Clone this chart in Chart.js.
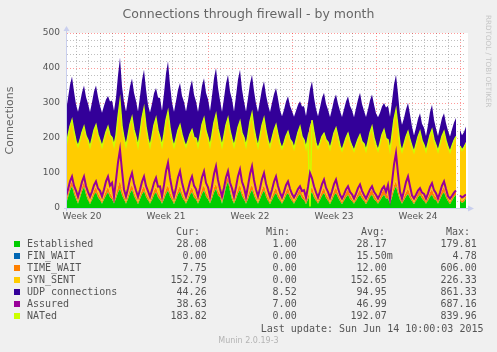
<!DOCTYPE html>
<html>
<head>
<meta charset="utf-8">
<title>Connections through firewall - by month</title>
<script src="https://cdn.jsdelivr.net/npm/chart.js@4.4.1/dist/chart.umd.min.js"></script>
<style>
  body { margin: 0; background: #f0f0f0; }
  #graph { position: relative; width: 497px; height: 352px; overflow: hidden; background: #f0f0f0; }
  #graph canvas { position: absolute; left: 0; top: 0; }
  .txt { position: absolute; white-space: pre; color: #555; }
  .mono { font-family: 'DejaVu Sans Mono', monospace; font-size: 10px; line-height: 12px; }
  .sw { position: absolute; width: 6px; height: 6px; }
</style>
</head>
<body>
<div id="graph">
  <canvas id="chart" width="497" height="352"></canvas>
  <div class="txt" style="left:0;width:497px;top:6px;text-align:center;font-family:'DejaVu Sans';font-size:12.5px;line-height:15px;color:#666;">Connections through firewall - by month</div>
  <div class="txt" style="left:493px;top:15px;font-family:'DejaVu Sans';font-size:7.2px;line-height:9px;color:#c4c4c4;transform:rotate(90deg);transform-origin:0 0;">RRDTOOL / TOBI OETIKER</div>
</div>

<script>
// ==============================
// DATOS (muestras cada 4 horas, dia 2 = 12 de mayo 00:00)
// ==============================
const startDay = 2;
const stepDay = 1 / 6;

const weekLabels = ['Week 20', 'Week 21', 'Week 22', 'Week 23', 'Week 24'];
const weekMid = [3.5, 10.5, 17.5, 24.5, 31.5];

const established = [
  27,12,30,50,62,40,  26,12,29,48,60,38,  22,11,23,37,45,30,  22,12,24,36,45,31,
  25,13,27,44,55,36,  24,12,26,42,52,34,  23,11,25,39,48,32,  22,12,23,37,45,30,
  23,12,25,40,50,33,  23,11,24,39,48,32,  22,12,24,37,45,30,  24,12,25,41,50,33,
  25,13,27,44,55,36,  31,12,34,60,76,47,  24,12,26,42,52,34,  24,12,25,41,52,35,
  23,12,25,40,50,33,  21,11,23,35,43,29,  21,12,22,36,43,29,  20,12,22,33,40,28,
  22,11,24,37,45,30,  21,12,23,35,43,29,  21,11,22,36,43,30,  19,11,21,31,38,26,
  19,12,21,31,38,27,  20,11,21,32,38,26,  19,12,21,31,38,27,  27,12,30,50,62,40,
  22,12,22,33,40,28,  19,11,21,31,38,27,  20,12,21,32,38,26,  22,12,24,37,45,30,
  19,11,21,31,38,null,  20,14,18,28.08
];

const finWait = [0, 0];

const timeWait = [
  9,6,10,13,16,12,  8,6,9,12,16,11,  9,5,10,14,16,12,  9,6,10,13,16,12,
  9,6,11,17,25,14,  9,6,10,13,16,12,  8,6,10,14,16,11,  9,5,10,13,16,12,
  9,6,11,14,16,12,  9,6,10,13,16,12,  8,6,9,13,16,11,  9,6,10,14,16,12,
  9,5,10,13,16,12,  9,6,10,14,16,12,  9,6,10,13,16,11,  9,6,11,14,16,12,
  8,5,10,13,16,12,  9,6,10,13,16,12,  8,5,9,12,16,11,  9,5,10,13,16,12,
  9,6,10,13,16,12,  8,6,9,13,16,11,  9,5,10,13,16,12,  9,6,10,13,16,12,
  8,5,9,12,16,11,  9,6,10,13,16,12,  9,6,10,14,16,12,  9,6,11,14,16,12,
  9,6,10,13,16,12,  8,5,9,13,16,11,  9,6,10,13,16,12,  9,6,10,14,16,12,
  9,6,10,13,16,null,  8,6,7,7.75
];

const synSent = [
  164,159,166,171,174,168,  158,159,157,157,157,158,  164,159,165,172,177,169,  163,158,163,169,172,166,
  168,160,170,200,226,185,  168,160,172,185,192,178,  172,160,180,205,221,190,  168,159,172,188,196,180,
  170,160,176,198,210,185,  164,159,165,171,174,167,  161,158,160,162,163,161,  167,159,170,184,191,176,
  168,160,172,188,196,179,  162,159,162,164,165,162,  165,159,167,176,180,170,  169,160,174,193,203,182,
  167,159,171,184,191,176,  164,159,166,174,179,169,  156,154,156,158,160,157,  160,154,162,171,177,165,
  164,155,168,184,191,174,  156,153,155,157,155,156,  159,154,159,166,170,163,  151,148,152,157,160,154,
  150,147,151,154,156,152,  155,148,158,171,179,164,  153,147,155,165,170,160,  160,148,167,190,203,178,
  150,145,151,158,163,155,  150,145,152,160,165,156,  152,145,154,164,170,158,  149,145,150,155,158,152,
  147,144,147,150,151,null,  150,146,149,152.79
];

const udp = [
  106,99,108,118,124,113,  104,98,106,113,117,110,  103,99,104,110,112,107,  98,96,95,92,87,95,
  105,99,108,118,124,112,  102,98,104,108,110,105,  103,99,104,108,110,106,  96,97,93,90,86,94,
  112,100,116,133,143,122,  105,99,107,115,119,110,  112,100,115,132,142,122,  104,98,105,111,114,108,
  109,99,112,126,133,117,  106,98,108,118,124,112,  113,99,117,137,147,124,  102,98,104,108,110,105,
  100,98,101,104,105,102,  101,98,102,104,105,102,  94,91,94,98,100,95,  88,90,84,78,72,85,
  96,91,98,106,110,100,  98,91,100,109,115,102,  92,90,92,94,95,93,  98,95,99,103,105,100,
  102,95,104,113,119,107,  94,95,93,92,91,94,  90,94,86,80,76,88,  96,95,97,99,100,97,
  85,75,74,78,81,72,  55,46,48,50,52,47,  48,43,53,65,71,56,  47,43,48,51,52,48,
  46,43,47,50,52,null,  45,42,43,44.26
];

const assured = [
  50,33,53,76,90,64,  50,32,52,75,90,63,  46,32,47,65,76,56,  49,33,53,76,90,64,
  72,33,80,130,167,107,  53,33,56,83,100,70,  50,32,52,75,90,63,  48,32,51,72,86,61,
  62,33,66,105,129,86,  55,33,58,87,105,73,  50,32,52,75,90,64,  54,33,58,88,105,72,
  59,33,63,97,119,80,  55,33,58,87,105,73,  56,33,60,91,110,75,  59,32,63,97,119,80,
  53,33,56,83,100,70,  50,32,52,75,90,63,  44,30,46,65,76,55,  40,30,41,54,62,48,
  51,30,60,100,85,62,  45,30,48,68,81,58,  46,30,48,68,81,57,  38,27,39,53,62,46,
  39,27,41,57,67,49,  37,27,40,53,62,46,  38,27,39,54,62,46,  66,27,73,124,157,98,
  46,27,49,74,90,62,  36,27,38,50,57,44,  40,27,42,60,71,51,  42,27,44,64,76,54,
  34,27,35,44,50,null,  36,30,34,38.63
];

const nated = [
  199,176,205,233,251,219,  191,176,194,216,232,206,  194,174,197,222,237,210,  193,175,196,217,232,208,
  201,178,207,260,305,234,  200,177,207,239,259,223,  202,176,214,257,284,232,  198,175,204,237,256,221,
  201,177,211,251,275,229,  195,175,198,222,237,210,  190,175,192,211,223,201,  199,176,204,238,256,220,
  201,177,208,244,266,226,  201,176,205,237,256,220,  197,176,202,230,247,214,  201,177,209,247,270,228,
  197,175,205,236,256,220,  193,175,198,221,237,209,  184,170,186,205,218,196,  188,170,193,216,232,204,
  194,171,201,4,251,215,  184,170,186,204,213,195,  188,169,190,214,228,204,  178,164,182,200,213,191,
  176,163,180,196,209,189,  183,164,188,215,232,201,  180,164,185,209,223,198,  195,165,207,253,280,229,
  180,162,182,203,218,194,  176,160,181,203,218,193,  180,162,184,208,223,195,  179,162,183,205,218,193,
  174,160,177,193,204,null,  177,165,173,183.82
];

// leyenda
const seriesNames = ['Established', 'FIN_WAIT', 'TIME_WAIT', 'SYN_SENT', 'UDP connections', 'Assured', 'NATed'];
const seriesColors = ['#00CC00', '#0066B3', '#FF8000', '#FFCC00', '#330099', '#990099', '#CCFF00'];
const curVals = ['28.08', '0.00', '7.75', '152.79', '44.26', '38.63', '183.82'];
const minVals = ['1.00', '0.00', '0.00', '0.00', '8.52', '7.00', '0.00'];
const avgVals = ['28.17', '15.50m', '12.00', '152.65', '94.95', '46.99', '192.07'];
const maxVals = ['179.81', '4.78', '606.00', '226.33', '861.33', '687.16', '839.96'];
const lastUpdate = 'Last update: Sun Jun 14 10:00:03 2015';
const version = 'Munin 2.0.19-3';

const times = established.map((v, i) => startDay + i * stepDay);

// ==============================
// GRAFICA
// ==============================
Chart.defaults.font.family = "'DejaVu Sans', sans-serif";
Chart.defaults.color = '#666';

const muninFrame = {
    id: 'muninFrame',
    beforeDraw(chart) {
        const { ctx, chartArea: a } = chart;
        ctx.save();
        ctx.fillStyle = '#ffffff';
        ctx.fillRect(a.left, a.top, a.right - a.left + 2, a.bottom - a.top);
        ctx.restore();
    },
    afterDraw(chart) {
        const { ctx, chartArea: a } = chart;
        ctx.save();
        ctx.strokeStyle = '#c9cfee';
        ctx.fillStyle = '#c9cfee';
        ctx.lineWidth = 1;
        ctx.beginPath();
        ctx.moveTo(a.left - 0.5, a.bottom + 3);
        ctx.lineTo(a.left - 0.5, a.top - 3);
        ctx.moveTo(a.left - 3, a.bottom + 0.5);
        ctx.lineTo(a.right + 3, a.bottom + 0.5);
        ctx.stroke();
        ctx.beginPath();
        ctx.moveTo(a.left - 3.5, a.top - 2);
        ctx.lineTo(a.left + 2.5, a.top - 2);
        ctx.lineTo(a.left - 0.5, a.top - 7);
        ctx.closePath();
        ctx.fill();
        ctx.beginPath();
        ctx.moveTo(a.right + 2, a.bottom - 2.5);
        ctx.lineTo(a.right + 2, a.bottom + 3.5);
        ctx.lineTo(a.right + 8, a.bottom + 0.5);
        ctx.closePath();
        ctx.fill();
        ctx.restore();
    }
};

function area(label, data, color, fill) {
    return {
        label: label, data: data, fill: fill,
        backgroundColor: color, borderColor: color, borderWidth: 0,
        pointRadius: 0, order: 1, stack: 'conn'
    };
}

function linea(label, data, color, width) {
    return {
        label: label, data: data, fill: false,
        borderColor: color, backgroundColor: color, borderWidth: width,
        pointRadius: 0, order: 0, stack: label
    };
}

const xTicks = [];
for (let d = 3; d <= 35.5; d += 0.5) xTicks.push(d);

new Chart(document.getElementById('chart'), {
    type: 'line',
    data: {
        labels: times,
        datasets: [
            area('Established', established, '#00CC00', 'origin'),
            Object.assign(area('FIN_WAIT', finWait, '#0066B3', false), { data: [{ x: startDay, y: finWait[0] }, { x: 35.5, y: finWait[1] }] }),
            area('TIME_WAIT', timeWait, '#FF8000', 0),
            area('SYN_SENT', synSent, '#FFCC00', '-1'),
            area('UDP connections', udp, '#330099', '-1'),
            linea('Assured', assured, '#990099', 2),
            linea('NATed', nated, '#CCFF00', 1.5)
        ]
    },
    options: {
        responsive: false,
        animation: false,
        devicePixelRatio: 1,
        layout: { padding: { left: 0, right: 31, top: 33, bottom: 0 } },
        elements: { line: { tension: 0 } },
        plugins: { legend: { display: false }, tooltip: { enabled: false } },
        scales: {
            x: {
                type: 'linear',
                min: 2.25,
                max: 35.5,
                afterBuildTicks(scale) { scale.ticks = xTicks.map(v => ({ value: v })); },
                afterFit(scale) { scale.height = 144; },
                ticks: {
                    autoSkip: false, maxRotation: 0, padding: 3,
                    font: { size: 9 }, color: '#555',
                    callback(v) {
                        const i = weekMid.indexOf(v);
                        return i >= 0 ? weekLabels[i] : '';
                    }
                },
                grid: {
                    drawTicks: false,
                    color(c) {
                        const v = c.tick ? c.tick.value : 0.5;
                        if (v % 7 === 0) return 'rgba(255,0,0,0.4)';
                        if (Number.isInteger(v)) return 'rgba(128,128,128,0.5)';
                        return 'rgba(0,0,0,0)';
                    }
                },
                border: { display: false, dash: [1, 2] }
            },
            y: {
                stacked: true,
                min: 0,
                max: 500,
                afterFit(scale) { scale.width = 67; },
                ticks: {
                    stepSize: 20, autoSkip: false, padding: 7,
                    font: { size: 9 }, color: '#555',
                    callback(v) { return v % 100 === 0 ? v : ''; }
                },
                grid: {
                    drawTicks: false,
                    color(c) {
                        const v = c.tick ? c.tick.value : 0;
                        if (v === 0) return 'rgba(0,0,0,0)';
                        if (v % 100 === 0) return 'rgba(255,0,0,0.4)';
                        return 'rgba(128,128,128,0.5)';
                    }
                },
                border: { display: false, dash: [1, 2] },
                title: {
                    display: true, text: 'Connections', color: '#666',
                    font: { size: 11 }, padding: { top: 4, bottom: 0 }
                }
            }
        }
    },
    plugins: [muninFrame]
});

// ==============================
// LEYENDA
// ==============================
const graph = document.getElementById('graph');

function texto(str, css, clase) {
    const d = document.createElement('div');
    d.className = clase || 'txt mono';
    d.textContent = str;
    Object.assign(d.style, css);
    graph.appendChild(d);
    return d;
}

function conSufijo(s) {
    return /[0-9]$/.test(s) ? s + ' ' : s;
}

texto('Cur:', { right: (497 - 200) + 'px', top: '226px' });
texto('Min:', { right: (497 - 290) + 'px', top: '226px' });
texto('Avg:', { right: (497 - 385) + 'px', top: '226px' });
texto('Max:', { right: (497 - 470) + 'px', top: '226px' });

seriesNames.forEach((name, i) => {
    const top = 238.2 + 12 * i;
    const sw = document.createElement('div');
    sw.className = 'sw';
    sw.style.left = '14px';
    sw.style.top = (top + 3) + 'px';
    sw.style.background = seriesColors[i];
    graph.appendChild(sw);

    texto(name, { left: '27px', top: top + 'px' });
    texto(conSufijo(curVals[i]), { right: (497 - 212.7) + 'px', top: top + 'px' });
    texto(conSufijo(minVals[i]), { right: (497 - 302.7) + 'px', top: top + 'px' });
    texto(conSufijo(avgVals[i]), { right: (497 - 392.7) + 'px', top: top + 'px' });
    texto(conSufijo(maxVals[i]), { right: (497 - 482.7) + 'px', top: top + 'px' });
});

texto(lastUpdate, { right: (497 - 483.5) + 'px', top: '322.6px' });
texto(version, {
    left: '0px', width: '497px', textAlign: 'center', top: '336px',
    fontFamily: "'DejaVu Sans'", fontSize: '8px', lineHeight: '10px', color: '#b4b4b4'
}, 'txt');
</script>
</body>
</html>
